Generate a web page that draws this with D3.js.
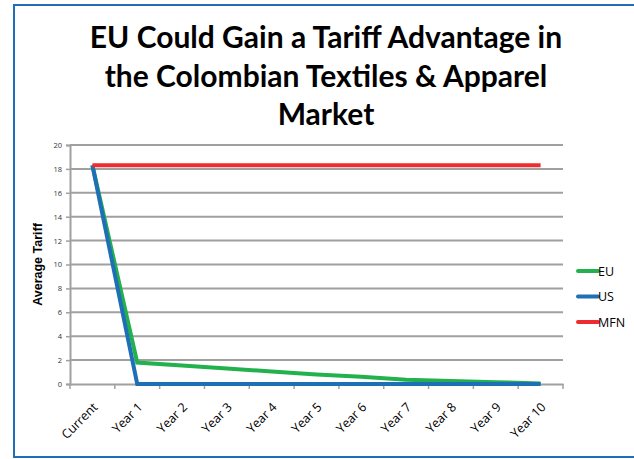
<!DOCTYPE html>
<html>
<head>
<meta charset="utf-8">
<script src="https://cdn.jsdelivr.net/npm/d3@7"></script>
<style>
  html, body { margin: 0; padding: 0; background: #fff; }
  svg { display: block; }
</style>
</head>
<body>
<svg id="chart" width="634" height="459"></svg>
<script>
// Tariff schedule by year
const categories = ["Current", "Year 1", "Year 2", "Year 3", "Year 4", "Year 5",
                    "Year 6", "Year 7", "Year 8", "Year 9", "Year 10"];
const euValues  = [18.3, 1.8, 1.55, 1.3, 1.05, 0.8, 0.6, 0.35, 0.25, 0.15, 0.05];
const usValues  = [18.3, 0, 0, 0, 0, 0, 0, 0, 0, 0, 0];
const mfnValues = [18.3, 18.3, 18.3, 18.3, 18.3, 18.3, 18.3, 18.3, 18.3, 18.3, 18.3];
const yTicks = [0, 2, 4, 6, 8, 10, 12, 14, 16, 18, 20];
const titleLines = ["EU Could Gain a Tariff Advantage in",
                    "the Colombian Textiles & Apparel",
                    "Market"];

const series = [
  { name: "EU",  values: euValues,  color: "#22b14c" },
  { name: "US",  values: usValues,  color: "#1f6fb6" },
  { name: "MFN", values: mfnValues, color: "#ee2b2e" }
];

const svg = d3.select("#chart");
const plot = { left: 70, right: 563, top: 145, bottom: 384 };

// outer frame
svg.append("rect")
  .attr("x", 14).attr("y", 5).attr("width", 640).attr("height", 452)
  .attr("fill", "none").attr("stroke", "#1f6fb6").attr("stroke-width", 2);

// title
svg.append("g").selectAll("text").data(titleLines).join("text")
  .attr("x", 326).attr("y", (d, i) => 48 + i * 38.5)
  .attr("text-anchor", "middle")
  .attr("font-family", "Lato, 'Open Sans', sans-serif")
  .attr("font-weight", "bold").attr("font-size", 30)
  .attr("fill", "#000")
  .text(d => d);

const x = d3.scaleBand().domain(categories).range([plot.left, plot.right]);
const y = d3.scaleLinear().domain([0, 20]).range([plot.bottom, plot.top]);

// horizontal gridlines
svg.append("g").selectAll("line").data(yTicks.filter(d => d > 0)).join("line")
  .attr("x1", plot.left).attr("x2", plot.right)
  .attr("y1", d => y(d)).attr("y2", d => y(d))
  .attr("stroke", "#a0a0a0").attr("stroke-width", 2);

// y axis
const yAxis = svg.append("g")
  .attr("transform", `translate(${plot.left},0)`)
  .call(d3.axisLeft(y).tickValues(yTicks).tickSize(4).tickPadding(4));
yAxis.select(".domain").attr("stroke", "#a0a0a0").attr("stroke-width", 2);
yAxis.selectAll(".tick line").attr("stroke", "#a0a0a0").attr("stroke-width", 1.5);
yAxis.selectAll(".tick text")
  .attr("font-family", "'Open Sans', sans-serif").attr("font-size", 7.5).attr("fill", "#333");

// x axis with ticks at category boundaries
const xAxis = svg.append("g")
  .attr("transform", `translate(0,${plot.bottom})`)
  .call(d3.axisBottom(x).tickSize(0).tickFormat(""));
xAxis.select(".domain").attr("stroke", "#a0a0a0").attr("stroke-width", 2);
const bounds = categories.map(c => x(c)).concat([plot.right]);
xAxis.append("g").selectAll("line").data(bounds).join("line")
  .attr("x1", d => d).attr("x2", d => d).attr("y1", 0).attr("y2", 5)
  .attr("stroke", "#a0a0a0").attr("stroke-width", 1.5);

// rotated category labels
svg.append("g").selectAll("text").data(categories).join("text")
  .attr("transform", d => `translate(${x(d) + x.bandwidth() / 2 + 6},${plot.bottom + 24}) rotate(-45)`)
  .attr("text-anchor", "end")
  .attr("font-family", "'Open Sans', sans-serif").attr("font-size", 12.5).attr("fill", "#000")
  .text(d => d);

// y axis title
svg.append("text")
  .attr("transform", `translate(42,${(plot.top + plot.bottom) / 2}) rotate(-90)`)
  .attr("text-anchor", "middle")
  .attr("font-family", "'Liberation Sans', Arial, sans-serif")
  .attr("font-weight", "bold").attr("font-size", 12.5)
  .text("Average Tariff");

// series lines
const line = d3.line()
  .x((d, i) => x(categories[i]) + x.bandwidth() / 2)
  .y(d => y(d));
svg.append("g").selectAll("path").data(series).join("path")
  .attr("d", s => line(s.values))
  .attr("fill", "none").attr("stroke", s => s.color)
  .attr("stroke-width", 4).attr("stroke-linejoin", "miter");

// legend
const legend = svg.append("g").selectAll("g").data(series).join("g")
  .attr("transform", (d, i) => `translate(578,${271 + i * 25.5})`);
legend.append("line")
  .attr("x1", 0).attr("x2", 20).attr("y1", 0).attr("y2", 0)
  .attr("stroke", d => d.color).attr("stroke-width", 4).attr("stroke-linecap", "round");
legend.append("text")
  .attr("x", 20).attr("y", 4.5)
  .attr("font-family", "'Open Sans', sans-serif").attr("font-size", 12.5)
  .text(d => d.name);
</script>
</body>
</html>
